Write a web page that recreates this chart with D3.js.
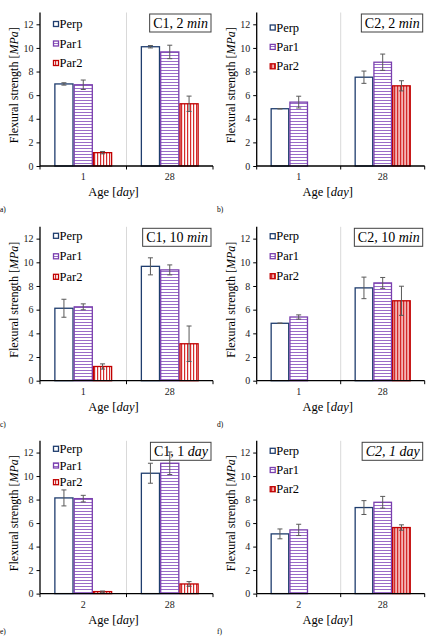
<!DOCTYPE html>
<html>
<head>
<meta charset="utf-8">
<script src="https://cdn.jsdelivr.net/npm/d3@7"></script>
<style>
  body { margin: 0; background: #fff; }
  svg { display: block; }
  svg text { font-family: "Liberation Serif", "Times New Roman", "DejaVu Serif", serif; }
</style>
</head>
<body>
<svg id="chart" width="428" height="638"></svg>
<script>
// --- data ---
var series = ["Perp", "Par1", "Par2"];
var ages = [["1", "28"], ["1", "28"], ["1", "28"], ["1", "28"], ["2", "28"], ["2", "28"]];
var titleMain = ["C1, 2 ", "C2, 2 ", "C1, 10 ", "C2, 10 ", "C1, 1 ", "C2, 1 "];
var titleUnit = ["min", "min", "min", "min", "day", "day"];
var panelTags = ["a)", "b)", "c)", "d)", "e)", "f)"];

var perpMean = [[6.95, 10.1], [4.85, 7.52], [6.12, 9.66], [4.85, 7.84], [8.14, 10.24], [5.08, 7.32]];
var perpErr  = [[0.1, 0.1], [0.02, 0.52], [0.76, 0.72], [0.02, 0.91], [0.68, 0.85], [0.42, 0.59]];
var par1Mean = [[6.88, 9.66], [5.41, 8.79], [6.24, 9.36], [5.38, 8.26], [8.08, 11.09], [5.42, 7.77]];
var par1Err  = [[0.4, 0.57], [0.5, 0.69], [0.25, 0.42], [0.18, 0.46], [0.28, 0.96], [0.48, 0.5]];
var par2Mean = [[1.13, 5.27], [null, 6.79], [1.2, 3.12], [null, 6.75], [0.17, 0.82], [null, 5.62]];
var par2Err  = [[0.1, 0.65], [null, 0.43], [0.22, 1.5], [null, 1.23], [0.05, 0.2], [null, 0.23]];

var yTicks = [0, 2, 4, 6, 8, 10, 12];

// --- layout ---
var colLeft = [40, 256.7], colRight = [213, 424.7];
var rowTop = [12.5, 226.8, 440.8], rowBottom = [166, 380.7, 593.6];
var legendTop = [11.5, 15, 9, 9.4, 8, 10], legendGap = [19.5, 19.4, 20.5, 20, 16.7, 19.2];
var serif = "Liberation Serif, Times New Roman, DejaVu Serif, serif";

var colors = { Perp: "#1f3d6e", Par1: "#7a3fae", Par2: "#c00000" };
var svg = d3.select("#chart").attr("font-family", serif);

var defs = svg.append("defs");
function stripes(id, horizontal, bg, fg) {
  var w = horizontal ? 4 : 3, h = horizontal ? 3 : 4;
  var pt = defs.append("pattern").attr("id", id).attr("patternUnits", "userSpaceOnUse")
    .attr("width", w).attr("height", h);
  pt.append("rect").attr("width", w).attr("height", h).attr("fill", bg);
  if (horizontal) pt.append("rect").attr("y", 1).attr("width", w).attr("height", 1).attr("fill", fg);
  else pt.append("rect").attr("x", 1).attr("width", 1.2).attr("height", h).attr("fill", fg);
}
stripes("hstripe", true, "#fff", "#9a6cc8");
stripes("vstripe", false, "#fff", "#d42a2a");
stripes("vstripe2", false, "#f3b3b3", "#d42a2a");
var fills = { Perp: "#fff", Par1: "url(#hstripe)", Par2: "url(#vstripe)" };

d3.range(6).forEach(function(p) {
  var col = p % 2, row = Math.floor(p / 2);
  var L = colLeft[col], R = colRight[col], T = rowTop[row], B = rowBottom[row];
  var g = svg.append("g");
  var fillOf = function(s) { return s === "Par2" && col === 1 ? "url(#vstripe2)" : fills[s]; };

  var x = d3.scaleBand().domain(ages[p]).range([L, R]);
  var xs = d3.scaleBand().domain(series).range([x.bandwidth() * 0.165, x.bandwidth() * 0.835]);
  var y = d3.scaleLinear().domain([0, 13]).range([B, T]);

  // divider between categories
  g.append("line").attr("x1", x(ages[p][1])).attr("x2", x(ages[p][1]))
    .attr("y1", T).attr("y2", B).attr("stroke", "#d9d9d9").attr("stroke-width", 1);

  var rows = [];
  ages[p].forEach(function(a, i) {
    rows.push({ age: a, s: "Perp", v: perpMean[p][i], e: perpErr[p][i] });
    rows.push({ age: a, s: "Par1", v: par1Mean[p][i], e: par1Err[p][i] });
    rows.push({ age: a, s: "Par2", v: par2Mean[p][i], e: par2Err[p][i] });
  });
  rows = rows.filter(function(d) { return d.v != null; });

  g.selectAll("rect.bar").data(rows).enter().append("rect").attr("class", "bar")
    .attr("x", function(d) { return x(d.age) + xs(d.s) + 0.6; })
    .attr("y", function(d) { return y(d.v); })
    .attr("width", xs.bandwidth() - 1.2)
    .attr("height", function(d) { return y(0) - y(d.v); })
    .attr("fill", function(d) { return fillOf(d.s); })
    .attr("stroke", function(d) { return colors[d.s]; })
    .attr("stroke-width", 1.3);

  // title box
  var tb = g.append("g");
  var tt = tb.append("text").attr("font-size", 14).attr("font-family", serif).attr("y", T + 15.5);
  tt.append("tspan").text(titleMain[p]).attr("font-style", p === 5 ? "italic" : "normal");
  tt.append("tspan").text(titleUnit[p]).attr("font-style", "italic");
  var tw = tt.node().getComputedTextLength();
  tt.attr("x", R - 5 - tw);
  tb.insert("rect", "text").attr("x", R - 8.5 - tw).attr("y", T + 1.5)
    .attr("width", tw + 6.5).attr("height", 18).attr("fill", "#fff")
    .attr("stroke", "#404040").attr("stroke-width", 1);

  // error bars
  var eb = g.selectAll("g.err").data(rows.filter(function(d) { return d.e; })).enter()
    .append("g").attr("stroke", "#595959").attr("stroke-width", 1);
  eb.append("line")
    .attr("x1", function(d) { return x(d.age) + xs(d.s) + xs.bandwidth() / 2; })
    .attr("x2", function(d) { return x(d.age) + xs(d.s) + xs.bandwidth() / 2; })
    .attr("y1", function(d) { return y(d.v - d.e); })
    .attr("y2", function(d) { return y(d.v + d.e); });
  [-1, 1].forEach(function(sg) {
    eb.append("line")
      .attr("x1", function(d) { return x(d.age) + xs(d.s) + xs.bandwidth() / 2 - 2.5; })
      .attr("x2", function(d) { return x(d.age) + xs(d.s) + xs.bandwidth() / 2 + 2.5; })
      .attr("y1", function(d) { return y(d.v + sg * d.e); })
      .attr("y2", function(d) { return y(d.v + sg * d.e); });
  });

  // axes
  var ya = g.append("g").attr("transform", "translate(" + L + ",0)")
    .call(d3.axisLeft(y).tickValues(d3.range(0, 13.01, 0.4)).tickSize(2).tickFormat(""));
  ya.call(d3.axisLeft(y).tickValues(yTicks).tickSize(3.5).tickPadding(3));
  ya.attr("font-family", serif);
  ya.selectAll("path.domain").attr("d", "M0," + y(13) + "V" + y(0));
  ya.selectAll("text").attr("font-size", 10).attr("fill", "#222");

  var xa = g.append("g").attr("transform", "translate(0," + B + ")")
    .call(d3.axisBottom(x).tickSize(0).tickPadding(7));
  xa.attr("font-family", serif);
  xa.selectAll("path.domain").attr("d", "M" + L + ",0H" + R);
  xa.selectAll("text").attr("font-size", 10).attr("fill", "#222");
  xa.selectAll("line.bnd").data([L, x(ages[p][1]), R]).enter().append("line").attr("class", "bnd")
    .attr("x1", function(d) { return d; }).attr("x2", function(d) { return d; })
    .attr("y1", 0).attr("y2", 3.5).attr("stroke", "#000");
  g.selectAll(".domain").attr("stroke-width", 1.3);

  // axis titles
  var yt = g.append("text").attr("font-size", 12).attr("text-anchor", "middle").attr("font-family", serif)
    .attr("transform", "translate(" + (L - 22) + "," + ((T + B) / 2 - 4) + ") rotate(-90)");
  yt.append("tspan").text("Flexural strength [");
  yt.append("tspan").text("MPa").attr("font-style", "italic");
  yt.append("tspan").text("]");
  var xt = g.append("text").attr("font-size", 12.5).attr("text-anchor", "middle").attr("font-family", serif)
    .attr("x", (L + R) / 2 - 13).attr("y", B + 30);
  xt.append("tspan").text("Age [");
  xt.append("tspan").text("day").attr("font-style", "italic");
  xt.append("tspan").text("]");

  // legend
  series.forEach(function(s, i) {
    var ly = T + legendTop[p] + i * legendGap[p];
    g.append("rect").attr("x", L + 13.5).attr("y", ly - 2.5).attr("width", 5).attr("height", 5)
      .attr("fill", fillOf(s)).attr("stroke", colors[s]).attr("stroke-width", 1.3);
    g.append("text").attr("x", L + 19.5).attr("y", ly + 4).attr("font-size", 12.5)
      .attr("font-family", serif).text(s);
  });

  svg.append("text").attr("x", col * 217).attr("y", Math.min(B + 46, 634)).attr("font-size", 7.5)
    .attr("font-family", serif).text(panelTags[p]);
});
</script>
</body>
</html>
